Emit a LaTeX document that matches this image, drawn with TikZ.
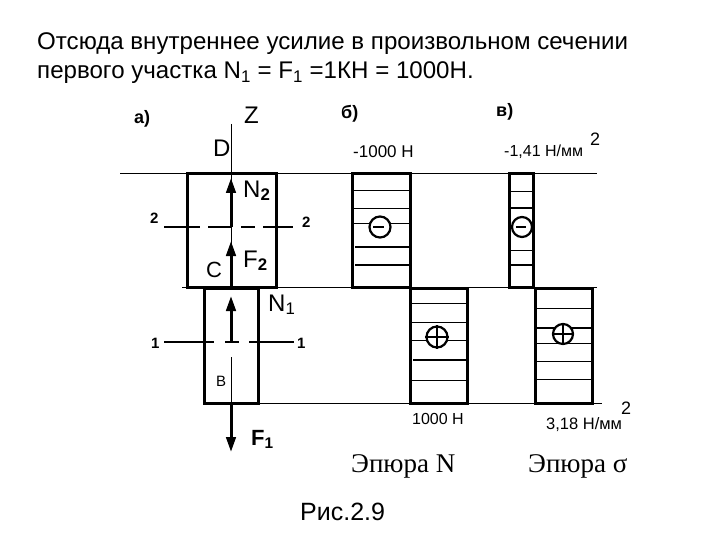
\documentclass[tikz,border=0pt]{standalone}
\usepackage{fontspec}
\setmainfont{Liberation Sans}
\newfontfamily\serifcaption{Liberation Serif}
\usetikzlibrary{arrows.meta}
\begin{document}
\begin{tikzpicture}[x=1pt,y=-1pt,
  bar/.style={draw=black,line width=3pt},
  thin line/.style={draw=black,line width=0.9pt},
  hatch/.style={draw=black,line width=1pt},
  hatchb/.style={draw=black,line width=2pt},
  force/.style={draw=black,line width=3pt,-{Stealth[length=15pt,width=9.5pt,inset=0pt]}},
  sec/.style={draw=black,line width=1.1pt},
  lbl/.style={inner sep=0pt,anchor=base west},
  txt/.style={lbl,font=\fontsize{24.1}{28}\selectfont},
  signc/.style={circle,draw=black,line width=2.2pt,minimum size=21pt,inner sep=0pt,fill=white}]
\useasboundingbox[fill=white] (0,0) rectangle (720,540);
% heading
\node[txt] (t1) at (37,50) {Отсюда внутреннее усилие в произвольном сечении};
\node[txt] (t2) at (37,79) {первого участка N\textsubscript{1} = F\textsubscript{1} =1КН = 1000Н.};
% base lines
\coordinate (l1a) at (120,173); \coordinate (l1b) at (597,173);
\coordinate (l2a) at (182,287); \coordinate (l2b) at (597,287);
\coordinate (l3a) at (258,403); \coordinate (l3b) at (602,403);
\draw[thin line] (l1a) -- (l1b);
\draw[thin line] (l2a) -- (l2b);
\draw[thin line] (l3a) -- (l3b);
% axis
\coordinate (ztop) at (231,124); \coordinate (zbot) at (231,403);
\draw[thin line] (ztop) -- (231,280);
\draw[thin line] (231,357) -- (zbot);
% bars
\draw[bar] (187,174) rectangle (276,287);
\draw[bar] (204,288) rectangle (258,403);
% sections
\coordinate (s2a) at (164,227); \coordinate (s2b) at (293,227);
\draw[sec,dash pattern=on 36pt off 8pt on 24pt off 9pt on 14pt off 8pt on 40pt] (s2a) -- (s2b);
\coordinate (s1a) at (164,342); \coordinate (s1b) at (294,342);
\draw[sec,line width=1.6pt,dash pattern=on 50pt off 11pt on 14pt off 10pt on 60pt] (s1a) -- (s1b);
% forces
\coordinate (n2a) at (231,227); \coordinate (n2b) at (231,178);
\coordinate (f2a) at (231,287); \coordinate (f2b) at (231,241);
\coordinate (n1a) at (231,342); \coordinate (n1b) at (231,296);
\coordinate (f1a) at (231,403); \coordinate (f1b) at (231,452);
\draw[force] (n2a) -- (n2b);
\draw[force] (f2a) -- (f2b);
\draw[force] (n1a) -- (n1b);
\draw[force] (f1a) -- (f1b);
% labels a
\node[lbl,font=\bfseries\fontsize{18}{20}\selectfont] (la) at (134,124) {а)};
\node[lbl,font=\fontsize{24}{26}\selectfont] (lz) at (244,124) {Z};
\node[lbl,font=\fontsize{24}{26}\selectfont] (ld) at (213,157) {D};
\node[lbl,font=\fontsize{24}{26}\selectfont] (ln2) at (243,197) {N\textsubscript{\textbf{2}}};
\node[lbl,font=\fontsize{24}{26}\selectfont] (lf2) at (243,267) {F\textsubscript{\textbf{2}}};
\node[lbl,font=\fontsize{22}{24}\selectfont] (lc) at (206,277) {C};
\node[lbl,font=\fontsize{24}{26}\selectfont] (ln1) at (268,311) {N\textsubscript{1}};
\node[lbl,font=\fontsize{15}{17}\selectfont] (lb) at (216,386) {В};
\node[lbl,font=\bfseries\fontsize{22}{24}\selectfont] (lf1) at (251,445) {F\textsubscript{1}};
\node[lbl,font=\bfseries\fontsize{15}{16}\selectfont] (s2l) at (150,224) {2};
\node[lbl,font=\bfseries\fontsize{15}{16}\selectfont] (s2r) at (302,228) {2};
\node[lbl,font=\bfseries\fontsize{15}{16}\selectfont] (s1l) at (151,348) {1};
\node[lbl,font=\bfseries\fontsize{15}{16}\selectfont] (s1r) at (297,348) {1};
% epure N
\draw[bar] (352,174) rectangle (410,287);
\draw[bar] (410,288) rectangle (467,403);
\foreach \yy in {191,209,224} \draw[hatch] (353,\yy) -- (409,\yy);
\foreach \yy in {247,265} \draw[hatchb] (355,\yy) -- (409,\yy);
\foreach \yy in {303,322,340,380} \draw[hatch] (411,\yy) -- (466,\yy);
\draw[hatchb] (413,360) -- (466,360);
\node[signc] (mn1) at (380,227) {};
\draw[line width=2.6pt] (mn1.west) ++(5,0) -- ++(11,0);
\node[signc] (pl1) at (437,337) {};
\draw[line width=2pt] (pl1.west) -- (pl1.east) (pl1.north) -- (pl1.south);
\node[lbl,font=\bfseries\fontsize{18}{20}\selectfont] (lb2) at (341,119) {б)};
\node[lbl,font=\fontsize{17}{20}\selectfont] (v1) at (353,158) {-1000 Н};
\node[lbl,font=\fontsize{16}{19}\selectfont] (v2) at (412,424) {1000 Н};
% epure sigma
\draw[bar] (509,174) rectangle (533,287);
\draw[bar] (535,288) rectangle (592,403);
\foreach \yy in {192,250} \draw[hatch] (510,\yy) -- (532,\yy);
\foreach \yy in {208,265} \draw[hatchb] (510,\yy) -- (532,\yy);
\foreach \yy in {308,343,361,379} \draw[hatch] (536,\yy) -- (591,\yy);
\draw[hatchb] (536,328) -- (591,328);
\node[signc,minimum size=20pt] (mn2) at (522,227) {};
\draw[line width=2.6pt] (mn2.west) ++(5,0) -- ++(10,0);
\node[signc,minimum size=20pt] (pl2) at (563,334) {};
\draw[line width=2pt] (pl2.west) -- (pl2.east) (pl2.north) -- (pl2.south);
\node[lbl,font=\bfseries\fontsize{18}{20}\selectfont] (lv) at (496,117) {в)};
\node[lbl,font=\fontsize{16}{19}\selectfont] (v3) at (504,157) {-1,41 Н/мм};
\node[lbl,font=\fontsize{18}{20}\selectfont] (v3s) at (590,146) {2};
\node[lbl,font=\fontsize{16.5}{19}\selectfont] (v4) at (546,429) {3,18 Н/мм};
\node[lbl,font=\fontsize{18}{20}\selectfont] (v4s) at (621,414) {2};
% captions
\node[lbl,font=\serifcaption\fontsize{27}{30}\selectfont] (c1) at (351,472) {Эпюра N};
\node[lbl,font=\serifcaption\fontsize{27}{30}\selectfont] (c2) at (528,472) {Эпюра σ};
\node[lbl,font=\fontsize{25}{28}\selectfont] (c3) at (300,520) {Рис.2.9};
\end{tikzpicture}
\end{document}
